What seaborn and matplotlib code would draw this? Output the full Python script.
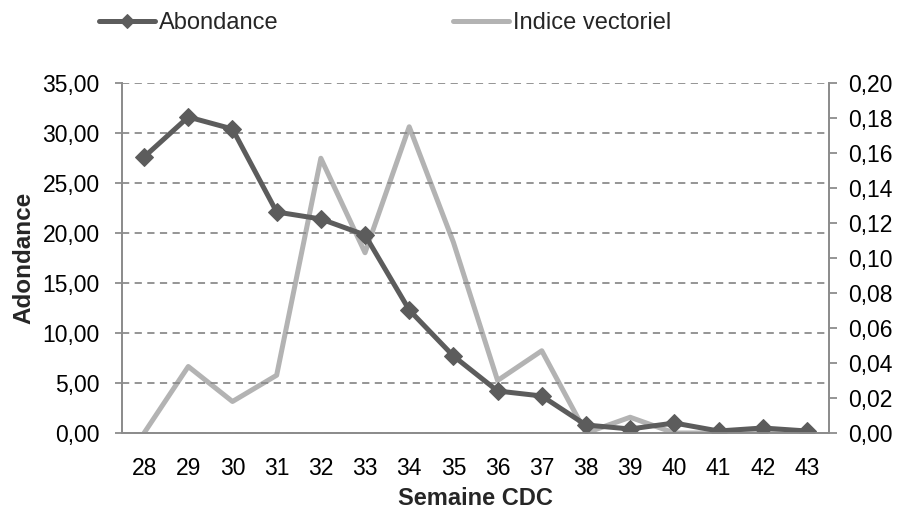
import matplotlib
matplotlib.use("Agg")
import matplotlib.pyplot as plt
import seaborn as sns
import pandas as pd
from matplotlib.ticker import FuncFormatter

# Donnees
semaines = [28, 29, 30, 31, 32, 33, 34, 35, 36, 37, 38, 39, 40, 41, 42, 43]
abondance = [27.6, 31.6, 30.4, 22.1, 21.4, 19.8, 12.3, 7.7, 4.2, 3.7, 0.8, 0.4, 1.0, 0.2, 0.5, 0.2]
indice = [0.0, 0.038, 0.018, 0.033, 0.157, 0.103, 0.175, 0.109, 0.030, 0.047, 0.0, 0.009, 0.0, 0.0, 0.0, 0.0]

df = pd.DataFrame({"pos": range(len(semaines)), "semaine": semaines,
                   "abondance": abondance, "indice": indice})

sns.set_theme(style="white")
plt.rcParams["font.family"] = ["Liberation Sans", "DejaVu Sans"]

fig = plt.figure(figsize=(9.01, 5.12), dpi=100)
ax = fig.add_axes([122 / 901, 79 / 512, 707 / 901, 350 / 512])
ax2 = ax.twinx()

dark = "#5c5c5c"
light = "#b3b3b3"
axis_col = "#8c8c8c"

sns.lineplot(data=df, x="pos", y="indice", ax=ax2, color=light, lw=3.6,
             label="Indice vectoriel", legend=False)
sns.lineplot(data=df, x="pos", y="abondance", ax=ax, color=dark, lw=3.6,
             marker="D", markersize=9.5, markeredgecolor=dark,
             label="Abondance", legend=False)

# l'axe de gauche devant la courbe claire
ax.set_zorder(ax2.get_zorder() + 1)
ax.patch.set_visible(False)

n = len(semaines)
ax.set_xlim(-0.5, n - 0.5)
ax.set_xticks(range(n))
ax.set_xticklabels([str(s) for s in semaines])
ax.set_ylim(0, 35)
ax.set_yticks([i * 5 for i in range(8)])
ax2.set_ylim(0, 0.20)
ax2.set_yticks([i * 0.02 for i in range(11)])

fmt = FuncFormatter(lambda v, p: f"{v:.2f}".replace(".", ","))
ax.yaxis.set_major_formatter(fmt)
ax2.yaxis.set_major_formatter(fmt)

ax.yaxis.grid(True, linestyle=(0, (4, 3)), color=axis_col, lw=1.3)
ax.xaxis.grid(False)
ax2.grid(False)

for a in (ax, ax2):
    a.spines["top"].set_visible(False)
    for s in ("left", "right", "bottom"):
        a.spines[s].set_color(axis_col)
        a.spines[s].set_linewidth(1.3)

ax.tick_params(axis="y", left=True, length=5, color=axis_col, width=1.3,
               labelsize=16.5, pad=11, labelcolor="black")
ax.tick_params(axis="x", bottom=False, labelsize=16.5, pad=11, labelcolor="black")
ax2.tick_params(axis="y", right=True, length=6, color=axis_col, width=1.3,
                labelsize=16.5, pad=8, labelcolor="black")

ax.set_xlabel("Semaine CDC", fontsize=17, fontweight="bold", labelpad=5)
ax.set_ylabel("Adondance", fontsize=17.5, fontweight="bold", labelpad=5)
ax2.set_ylabel("")

h1, l1 = ax.get_legend_handles_labels()
h2, l2 = ax2.get_legend_handles_labels()
fig.legend(h1 + h2, l1 + l2, loc="center left",
           bbox_to_anchor=(99 / 901, 1 - 23 / 512),
           ncol=2, frameon=False, fontsize=17, handlelength=2.37,
           handletextpad=0.17, columnspacing=7.4, borderpad=0,
           borderaxespad=0, markerscale=0.7)

fig.savefig("out.png", dpi=100)
